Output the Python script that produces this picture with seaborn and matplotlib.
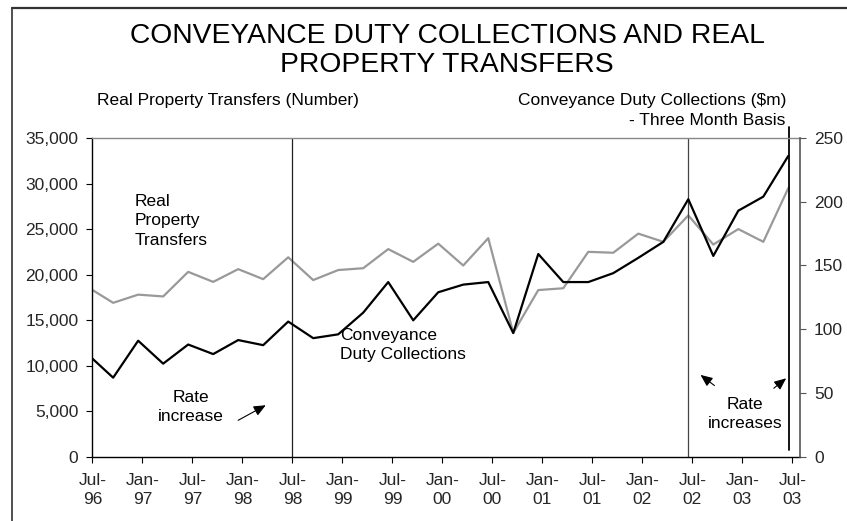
import numpy as np
import pandas as pd
import matplotlib
matplotlib.use("Agg")
import matplotlib.pyplot as plt
import seaborn as sns
from matplotlib.lines import Line2D

# Quarterly data, Jul-96 .. Jul-03 (29 quarters)
transfers = [18600, 16900, 17800, 17600, 20300, 19200, 20600, 19500, 21900,
             19400, 20500, 20700, 22800, 21400, 23400, 21000, 24000, 13600, 18300,
             18500, 22500, 22400, 24500, 23600, 26500, 23300, 25000, 23600, 29500]
duty = [80, 62, 91, 73, 88, 80.5, 91.5, 87.5, 106,
        93, 96, 113, 137, 107, 129, 135, 137, 97, 159,
        137, 137, 144, 156, 168.5, 202, 157.5, 193, 204, 236]
tick_labels = ["Jul-\n96", "Jan-\n97", "Jul-\n97", "Jan-\n98", "Jul-\n98",
               "Jan-\n99", "Jul-\n99", "Jan-\n00", "Jul-\n00", "Jan-\n01",
               "Jul-\n01", "Jan-\n02", "Jul-\n02", "Jan-\n03", "Jul-\n03"]

# months from Jul-96; values plotted mid-month before the quarter start
months = np.arange(len(transfers)) * 3 - 0.5
df = pd.DataFrame({"month": months, "transfers": transfers, "duty": duty})

sns.set_theme(style="white")
plt.rcParams["font.family"] = ["Liberation Sans", "DejaVu Sans"]
plt.rcParams["text.color"] = "black"
FS = 12.5

fig = plt.figure(figsize=(8.47, 5.21), dpi=100)
ax = fig.add_axes([0.109, 0.1234, 0.8355, 0.6117])
ax2 = ax.twinx()

sns.lineplot(data=df, x="month", y="transfers", ax=ax, color="#999999",
             linewidth=1.6, sort=False, legend=False)
sns.lineplot(data=df, x="month", y="duty", ax=ax2, color="black",
             linewidth=1.6, sort=False, legend=False)

ax.set_xlim(0, 84.9)
ax.set_ylim(0, 35000)
ax2.set_ylim(0, 250)
ax.set_xticks(np.arange(0, 85, 6))
ax.set_xticklabels(tick_labels, fontsize=FS, linespacing=1.3)
ax.set_yticks(np.arange(0, 35001, 5000))
ax.set_yticklabels([f"{v:,}" for v in range(0, 35001, 5000)], fontsize=FS)
ax2.set_yticks(np.arange(0, 251, 50))
ax2.set_yticklabels([str(v) for v in range(0, 251, 50)], fontsize=FS)
ax.set_xlabel("")
ax.set_ylabel("")
ax2.set_ylabel("")
ax.grid(False)
ax2.grid(False)

ax.tick_params(axis="x", direction="out", length=4, width=0.8, color="black", pad=8, bottom=True)
ax.tick_params(axis="y", direction="out", length=4, width=0.8, color="black", pad=6, left=True)
ax2.tick_params(axis="y", direction="out", length=4, width=0.8, color="#555555", pad=6, right=True)

for name, sp in ax.spines.items():
    sp.set_visible(True)
    sp.set_linewidth(1.0)
ax.spines["left"].set_color("black")
ax.spines["bottom"].set_color("black")
ax.spines["top"].set_color("#888888")
ax.spines["right"].set_visible(False)
for name in ["left", "top", "bottom"]:
    ax2.spines[name].set_visible(False)
ax2.spines["right"].set_color("#555555")
ax2.spines["right"].set_linewidth(1.2)

# rate increase markers
ax.axvline(24, color="#222222", linewidth=0.9)
ax.axvline(71.5, color="#444444", linewidth=0.9)
ax.add_line(Line2D([83.6, 83.6], [740, 36250], color="black", linewidth=1.3, clip_on=False))

# annotations
ax.text(5.1, 25900, "Real\nProperty\nTransfers", fontsize=FS, ha="left", va="center", linespacing=1.38)
ax.text(29.7, 12250, "Conveyance\nDuty Collections", fontsize=FS, ha="left", va="center", linespacing=1.32)
ax.text(11.8, 5500, "Rate\nincrease", fontsize=FS, ha="center", va="center", linespacing=1.35)
ax.text(78.35, 4650, "Rate\nincreases", fontsize=FS, ha="center", va="center", linespacing=1.35)
arrow = dict(arrowstyle="-|>,head_length=0.6,head_width=0.26", color="black", linewidth=0.8)
ax.annotate("", xy=(21.1, 5800), xytext=(17.2, 3850), arrowprops=arrow)
ax.annotate("", xy=(72.7, 9170), xytext=(74.9, 7630), arrowprops=arrow)
ax.annotate("", xy=(83.5, 8800), xytext=(81.5, 7330), arrowprops=arrow, annotation_clip=False)

# titles and axis headers
fig.text(0.528, 0.903, "CONVEYANCE DUTY COLLECTIONS AND REAL\nPROPERTY TRANSFERS",
         fontsize=20.3, ha="center", va="center", linespacing=1.17)
fig.text(0.1145, 0.808, "Real Property Transfers (Number)", fontsize=FS, ha="left", va="center")
fig.text(0.928, 0.808, "Conveyance Duty Collections ($m)", fontsize=FS, ha="right", va="center")
fig.text(0.927, 0.768, "- Three Month Basis", fontsize=FS, ha="right", va="center")

# outer frame (top and left edges)
fig.add_artist(Line2D([0.0138, 1.0], [0.984, 0.984], color="#333333", linewidth=1.6,
                      transform=fig.transFigure))
fig.add_artist(Line2D([0.0138, 0.0138], [0.0, 0.984], color="#333333", linewidth=1.2,
                      transform=fig.transFigure))

fig.savefig("out.png", dpi=100)
